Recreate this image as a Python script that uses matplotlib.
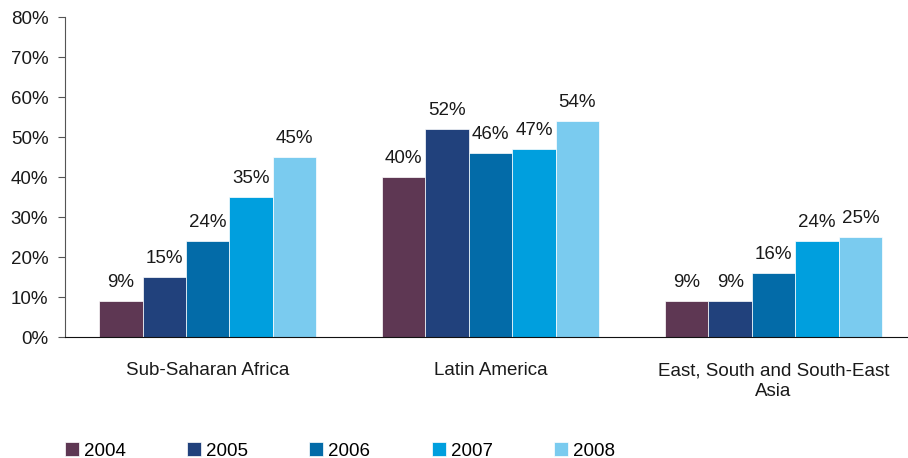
import matplotlib.pyplot as plt
import numpy as np

plt.rcParams['font.family'] = ['Liberation Sans', 'DejaVu Sans']

regions = ['Sub-Saharan Africa', 'Latin America', 'East, South and South-East\nAsia']
years = ['2004', '2005', '2006', '2007', '2008']
share = {
    '2004': [9, 40, 9],
    '2005': [15, 52, 9],
    '2006': [24, 46, 16],
    '2007': [35, 47, 24],
    '2008': [45, 54, 25],
}
colors = ['#5E3753', '#21417C', '#036BA8', '#009FDE', '#7ACBEF']
fs = 13.5
txt = '#1a1a1a'

fig = plt.figure(figsize=(9.08, 4.58), dpi=100)
ax = fig.add_axes([65 / 908, 121 / 458, 843 / 908, 320 / 458])

x = np.arange(len(regions))
w = 0.767 / 5
for i, yr in enumerate(years):
    pos = x + (i - 2) * w
    bars = ax.bar(pos, share[yr], w, color=colors[i], edgecolor='white', linewidth=0.5, label=yr)
    for b, v in zip(bars, share[yr]):
        ax.text(b.get_x() + b.get_width() / 2, v + 2.6, f'{v}%', ha='center', va='bottom',
                fontsize=fs, color=txt)

ax.set_xlim(-0.504, 2.475)
ax.set_ylim(0, 80)
ax.set_yticks(range(0, 81, 10))
ax.set_yticklabels([f'{t}%' for t in range(0, 81, 10)], fontsize=fs, color=txt)
ax.set_xticks(x)
ax.set_xticklabels(regions, fontsize=fs, color=txt, linespacing=1.3)
ax.tick_params(axis='x', length=0, pad=18)
ax.tick_params(axis='y', length=5, width=0.8, pad=7, direction='out', color='#555555')
for s in ['top', 'right']:
    ax.spines[s].set_visible(False)
ax.spines['left'].set_color('#555555')
ax.spines['bottom'].set_color('#111111')

fig.legend(loc='center left', bbox_to_anchor=(48 / 908, 7 / 458), ncol=5, frameon=False,
           fontsize=fs, handlelength=0.75, handleheight=0.75, handletextpad=0.27,
           columnspacing=3.26)

fig.savefig('out.png', dpi=100)
